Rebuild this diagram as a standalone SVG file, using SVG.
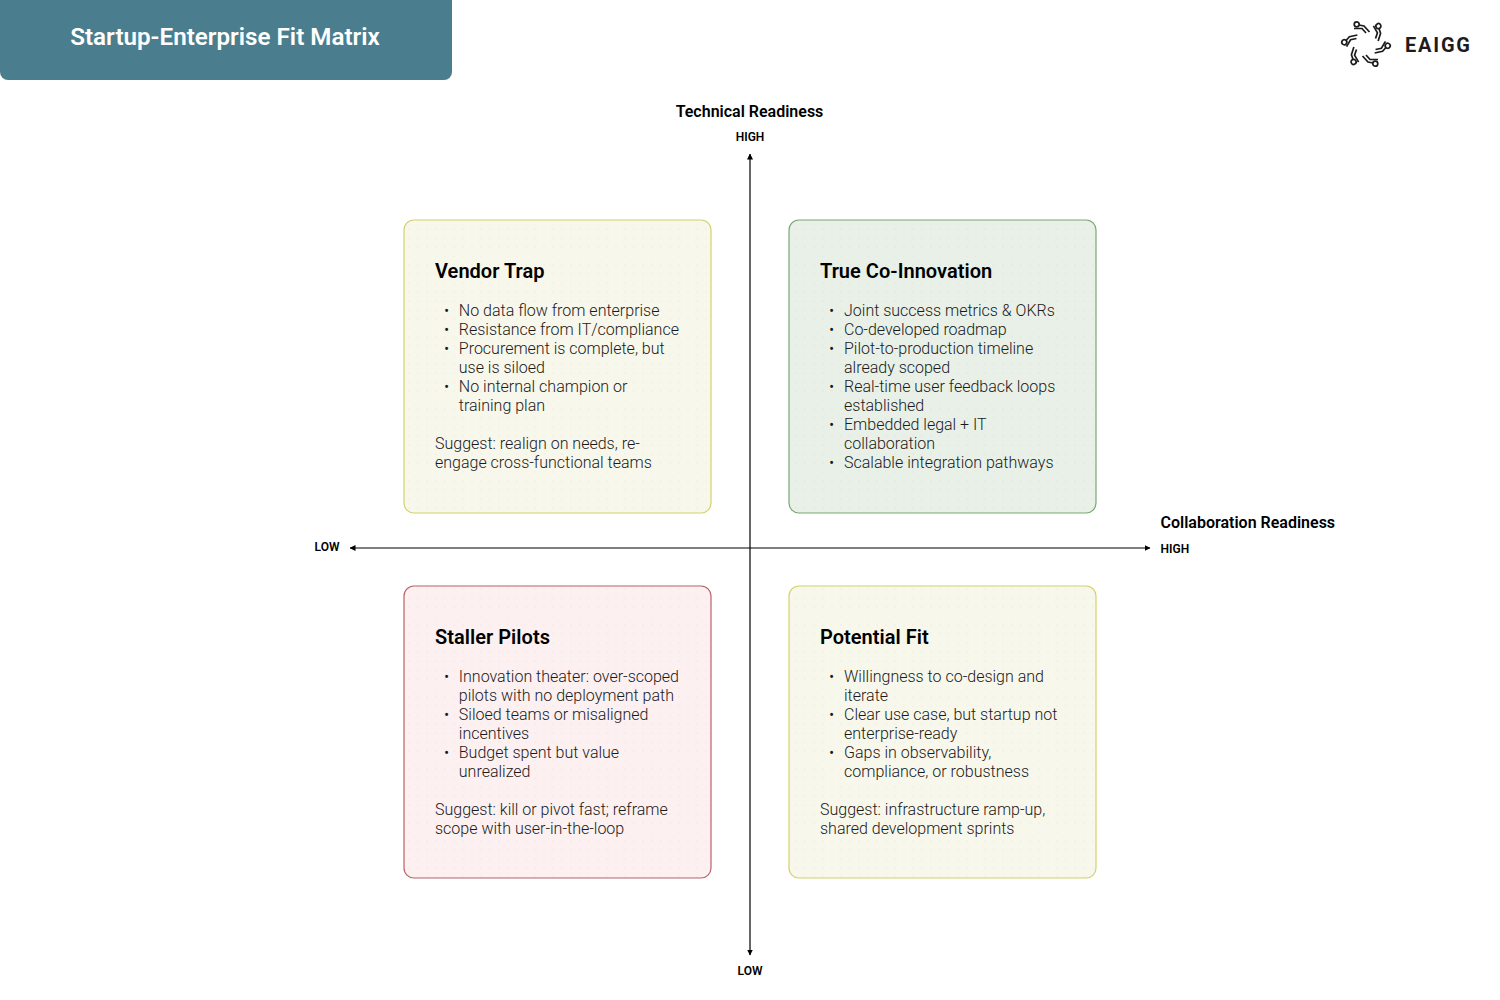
<svg xmlns="http://www.w3.org/2000/svg" width="1500" height="1000" viewBox="0 0 1500 1000">
<style>
text{font-family:Roboto,"Liberation Sans",sans-serif;fill:#000}
.h{font-size:20px;font-weight:600;letter-spacing:.03px}
.b{font-size:16px;font-weight:300;fill:#1a1a1a}
.ax{font-size:16px;font-weight:600}
.tk{font-size:12px;font-weight:600}
.card{stroke-width:1.2}
.c{fill:none;stroke:#000;stroke-width:1.2}
</style>
<defs>
<marker id="ah" viewBox="0 0 6 6" refX="5.5" refY="3" markerWidth="6" markerHeight="6" orient="auto-start-reverse" markerUnits="userSpaceOnUse"><path d="M0 0L6 3L0 6Z" fill="#000"/></marker>
<pattern id="dots" width="9" height="9" patternUnits="userSpaceOnUse"><circle cx="4" cy="4" r=".6" fill="#000" fill-opacity=".07"/></pattern>
<g id="petal" fill="none" stroke="#1c1c1c" stroke-width="1.7"><circle cx="-9.300" cy="-19.700" r="2.500"/><path d="M-7 -19L-2 -18L3.500 -12"/><path d="M-12 -15.500H-4L0 -11"/></g>
</defs>
<g id="title"><path d="M0 0H452V72a8 8 0 0 1-8 8H8a8 8 0 0 1-8-8Z" fill="#4a7e8e"/><text x="225" y="45" text-anchor="middle" style="fill:#fff;font-size:24.200px;font-weight:600">Startup-Enterprise Fit Matrix</text></g>
<g id="logo"><use href="#petal" transform="translate(1366 44)"/><use href="#petal" transform="translate(1366 44) rotate(60)"/><use href="#petal" transform="translate(1366 44) rotate(120)"/><use href="#petal" transform="translate(1366 44) rotate(180)"/><use href="#petal" transform="translate(1366 44) rotate(240)"/><use href="#petal" transform="translate(1366 44) rotate(300)"/><text x="1405" y="52" style="font-size:20px;font-weight:700;letter-spacing:1.800px;fill:#1c1c1c">EAIGG</text></g>
<g id="connectors"><path class="c" d="M750 548V154" marker-end="url(#ah)"/><path class="c" d="M750 548V955" marker-end="url(#ah)"/><path class="c" d="M750 548H350" marker-end="url(#ah)"/><path class="c" d="M750 548H1150" marker-end="url(#ah)"/></g>
<g id="axis-labels"><text class="ax" x="749.500" y="117" text-anchor="middle">Technical Readiness</text><text class="tk" x="750" y="141" text-anchor="middle">HIGH</text><text class="tk" x="750" y="975" text-anchor="middle">LOW</text><text class="tk" x="327" y="551" text-anchor="middle">LOW</text><text class="tk" x="1160.500" y="552.500">HIGH</text><text class="ax" x="1160.500" y="528">Collaboration Readiness</text></g>
<g id="vendor-trap"><rect class="card" x="404" y="220" width="307" height="293" rx="10" fill="#f8f7eb" stroke="#d2d26a"/><rect x="404" y="220" width="307" height="293" rx="10" fill="url(#dots)"/><text class="h" x="435" y="278">Vendor Trap</text>
<text class="b" x="444" y="316">•</text><text class="b" x="458.800" y="316">No data flow from enterprise</text>
<text class="b" x="444" y="335">•</text><text class="b" x="458.800" y="335">Resistance from IT/compliance</text>
<text class="b" x="444" y="354">•</text><text class="b" x="458.800" y="354">Procurement is complete, but</text>
<text class="b" x="458.800" y="373">use is siloed</text>
<text class="b" x="444" y="392">•</text><text class="b" x="458.800" y="392">No internal champion or</text>
<text class="b" x="458.800" y="411">training plan</text>
<text class="b" x="435" y="449">Suggest: realign on needs, re-</text><text class="b" x="435" y="468">engage cross-functional teams</text></g>
<g id="true-co-innovation"><rect class="card" x="789" y="220" width="307" height="293" rx="10" fill="#e8f0e8" stroke="#78a873"/><rect x="789" y="220" width="307" height="293" rx="10" fill="url(#dots)"/><text class="h" x="820" y="278">True Co-Innovation</text>
<text class="b" x="829" y="316">•</text><text class="b" x="844" y="316">Joint success metrics &amp; OKRs</text>
<text class="b" x="829" y="335">•</text><text class="b" x="844" y="335">Co-developed roadmap</text>
<text class="b" x="829" y="354">•</text><text class="b" x="844" y="354">Pilot-to-production timeline</text>
<text class="b" x="844" y="373">already scoped</text>
<text class="b" x="829" y="392">•</text><text class="b" x="844" y="392">Real-time user feedback loops</text>
<text class="b" x="844" y="411">established</text>
<text class="b" x="829" y="430">•</text><text class="b" x="844" y="430">Embedded legal + IT</text>
<text class="b" x="844" y="449">collaboration</text>
<text class="b" x="829" y="468">•</text><text class="b" x="844" y="468">Scalable integration pathways</text></g>
<g id="staller-pilots"><rect class="card" x="404" y="586" width="307" height="292" rx="10" fill="#fdf0f0" stroke="#b8636b"/><rect x="404" y="586" width="307" height="292" rx="10" fill="url(#dots)"/><text class="h" x="435" y="644">Staller Pilots</text>
<text class="b" x="444" y="682">•</text><text class="b" x="458.800" y="682">Innovation theater: over-scoped</text>
<text class="b" x="458.800" y="701">pilots with no deployment path</text>
<text class="b" x="444" y="720">•</text><text class="b" x="458.800" y="720">Siloed teams or misaligned</text>
<text class="b" x="458.800" y="739">incentives</text>
<text class="b" x="444" y="758">•</text><text class="b" x="458.800" y="758">Budget spent but value</text>
<text class="b" x="458.800" y="777">unrealized</text>
<text class="b" x="435" y="815">Suggest: kill or pivot fast; reframe</text><text class="b" x="435" y="834">scope with user-in-the-loop</text></g>
<g id="potential-fit"><rect class="card" x="789" y="586" width="307" height="292" rx="10" fill="#f8f7eb" stroke="#d2d26a"/><rect x="789" y="586" width="307" height="292" rx="10" fill="url(#dots)"/><text class="h" x="820" y="644">Potential Fit</text>
<text class="b" x="829" y="682">•</text><text class="b" x="844" y="682">Willingness to co-design and</text>
<text class="b" x="844" y="701">iterate</text>
<text class="b" x="829" y="720">•</text><text class="b" x="844" y="720">Clear use case, but startup not</text>
<text class="b" x="844" y="739">enterprise-ready</text>
<text class="b" x="829" y="758">•</text><text class="b" x="844" y="758">Gaps in observability,</text>
<text class="b" x="844" y="777">compliance, or robustness</text>
<text class="b" x="820" y="815">Suggest: infrastructure ramp-up,</text><text class="b" x="820" y="834">shared development sprints</text></g>
</svg>
